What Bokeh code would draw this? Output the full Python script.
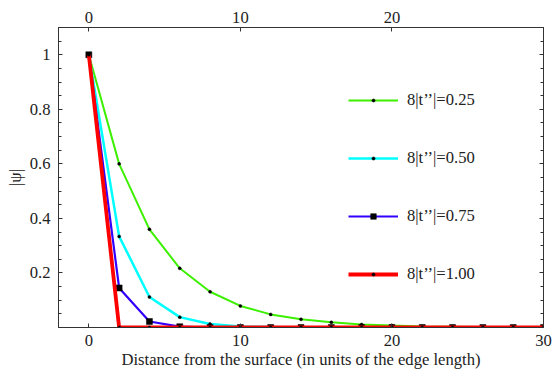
from bokeh.plotting import figure
from bokeh.models import LinearAxis, FixedTicker, Range1d, Legend, LegendItem, CustomJSTickFormatter
from bokeh.embed import file_html
from bokeh.resources import INLINE

# distance from surface (edge-length units)
dist = [0, 2, 4, 6, 8, 10, 12, 14, 16, 18, 20, 22, 24, 26, 28, 30]
psi_025 = [1.0, 0.60, 0.36, 0.217, 0.131, 0.079, 0.048, 0.030, 0.019, 0.011, 0.007, 0.004, 0.003, 0.002, 0.001, 0.001]
psi_050 = [1.0, 0.334, 0.112, 0.038, 0.013, 0.004, 0.002, 0.0, 0.0, 0.0, 0.0, 0.0, 0.0, 0.0, 0.0, 0.0]
psi_075 = [1.0, 0.145, 0.022, 0.003, 0.0, 0.0, 0.0, 0.0, 0.0, 0.0, 0.0, 0.0, 0.0, 0.0, 0.0, 0.0]
psi_100 = [1.0, 0.0, 0.0, 0.0, 0.0, 0.0, 0.0, 0.0, 0.0, 0.0, 0.0, 0.0, 0.0, 0.0, 0.0, 0.0]
labels = ["8|t\u2019\u2019|=0.25", "8|t\u2019\u2019|=0.50", "8|t\u2019\u2019|=0.75", "8|t\u2019\u2019|=1.00"]
x_ticks_bottom = [0, 10, 20, 30]
x_ticks_top = [0, 10, 20]
y_ticks = [0.2, 0.4, 0.6, 0.8, 1.0]
y_minor = [0.0, 0.05, 0.1, 0.15, 0.2, 0.25, 0.3, 0.35, 0.4, 0.45, 0.5, 0.55, 0.6, 0.65, 0.7, 0.75, 0.8, 0.85, 0.9, 0.95, 1.0, 1.05, 1.1]

FONT = "Liberation Serif"
FS = "16.6px"
AX = "#333333"
TXT = "#222222"

p = figure(width=552, height=378, x_range=Range1d(-2, 30), y_range=Range1d(0, 1.1),
           output_backend="svg", toolbar_location=None,
           x_axis_location=None, y_axis_location=None,
           min_border_left=58, min_border_right=9, min_border_top=27, min_border_bottom=51)
p.grid.visible = False
p.outline_line_color = AX
p.background_fill_color = "white"
p.border_fill_color = "white"


def style(ax):
    ax.axis_line_color = AX
    ax.major_tick_line_color = AX
    ax.minor_tick_line_color = AX
    ax.major_tick_in = 4
    ax.major_tick_out = 0
    ax.minor_tick_in = 3
    ax.minor_tick_out = 0
    ax.major_label_text_font = FONT
    ax.major_label_text_font_size = FS
    ax.major_label_text_color = TXT
    ax.axis_label_text_font = FONT
    ax.axis_label_text_font_size = FS
    ax.axis_label_text_font_style = "normal"
    ax.axis_label_text_color = TXT


bottom = LinearAxis(ticker=FixedTicker(ticks=x_ticks_bottom, minor_ticks=[]),
                    axis_label="Distance from the surface (in units of the edge length)")
style(bottom)
bottom.major_label_standoff = 7
bottom.axis_label_standoff = 1
p.add_layout(bottom, "below")

top = LinearAxis(ticker=FixedTicker(ticks=x_ticks_top, minor_ticks=[]))
style(top)
top.major_label_standoff = 5
p.add_layout(top, "above")

left = LinearAxis(ticker=FixedTicker(ticks=y_ticks, minor_ticks=y_minor), axis_label="|\u03c8|",
                  formatter=CustomJSTickFormatter(code="return Math.abs(tick-1)<1e-9 ? '1' : tick.toFixed(1);"))
style(left)
left.major_label_standoff = 8
left.axis_label_standoff = 2
p.add_layout(left, "left")

right = LinearAxis(ticker=FixedTicker(ticks=y_ticks, minor_ticks=y_minor),
                   formatter=CustomJSTickFormatter(code="return '';"))
style(right)
right.major_label_text_font_size = "1px"
right.major_label_standoff = 0
p.add_layout(right, "right")

series = [
    (psi_025, "#3cf000", 2.0, "circle", 3, 8),
    (psi_050, "#00ffff", 2.5, "circle", 3, 8),
    (psi_075, "#3300ff", 2.2, "square", 6, 14),
    (psi_100, "#ff0000", 3.8, "circle", 3, 8),
]
# legend rows, frame-relative screen offsets from bottom-left
legend_rows_y = [217, 159, 101, 43]
for (ys, col, lw, mk, ms, gh), lab, ly in zip(series, labels, legend_rows_y):
    r1 = p.line(dist, ys, line_color=col, line_width=lw)
    r2 = p.scatter(dist, ys, marker=mk, size=ms, fill_color="black", line_color="black", line_width=0.5)
    legend = Legend(items=[LegendItem(label=lab, renderers=[r1, r2])], location=(290, ly))
    legend.glyph_width = 50
    legend.glyph_height = gh
    legend.label_height = 20
    legend.padding = 0
    legend.margin = 0
    legend.label_standoff = 9
    legend.border_line_color = None
    legend.background_fill_alpha = 0
    legend.label_text_font = FONT
    legend.label_text_font_size = FS
    legend.label_text_color = TXT
    p.add_layout(legend)

open("out.html", "w").write(file_html(p, INLINE))
